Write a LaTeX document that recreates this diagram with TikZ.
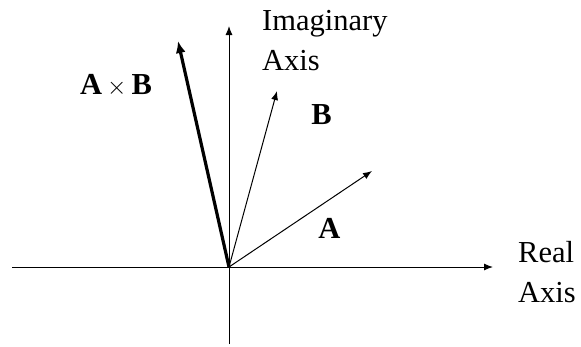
\documentclass[tikz,border=0pt]{standalone}
\usepackage{fontspec}
\setmainfont{Liberation Serif}
\usetikzlibrary{arrows.meta}
\begin{document}
\begin{tikzpicture}[x=1pt,y=-1pt,
  axis/.style={line width=1pt,-{Latex[length=9pt,width=7pt]}},
  vec/.style={line width=1pt,-{Latex[length=9pt,width=7pt]}},
  bigvec/.style={line width=3.2pt,-{Latex[length=12pt,width=10pt]}},
  lbl/.style={anchor=base west,inner sep=0pt,font=\fontsize{30.5}{40}\selectfont},
  blbl/.style={anchor=center,inner sep=0pt,font=\fontsize{30.5}{40}\selectfont\bfseries}]
\useasboundingbox (0,0) rectangle (581,346);
\coordinate (O) at (229,267);
\coordinate (xl) at (12,267);
\coordinate (xr) at (493,267);
\coordinate (yb) at (229,344);
\coordinate (yt) at (229,26);
\coordinate (Ae) at (372,171);
\coordinate (Be) at (277,91);
\coordinate (Ce) at (178,41);
\draw[axis] (xl) -- (xr);
\draw[axis] (yb) -- (yt);
\draw[vec] (O) -- (Ae);
\draw[vec] (O) -- (Be);
\draw[bigvec] (O) -- (Ce);
\node[lbl] (im1) at (262,30.5) {Imaginary};
\node[lbl] (im2) at (262,70.5) {Axis};
\node[lbl] (re1) at (518,262) {Real};
\node[lbl] (re2) at (518,302) {Axis};
\node[blbl] (lB) at (321.5,115) {B};
\node[blbl] (lA) at (329.5,228) {A};
\node[blbl] (lAB) at (116,85) {A\,$\times$\,B};
\end{tikzpicture}
\end{document}
